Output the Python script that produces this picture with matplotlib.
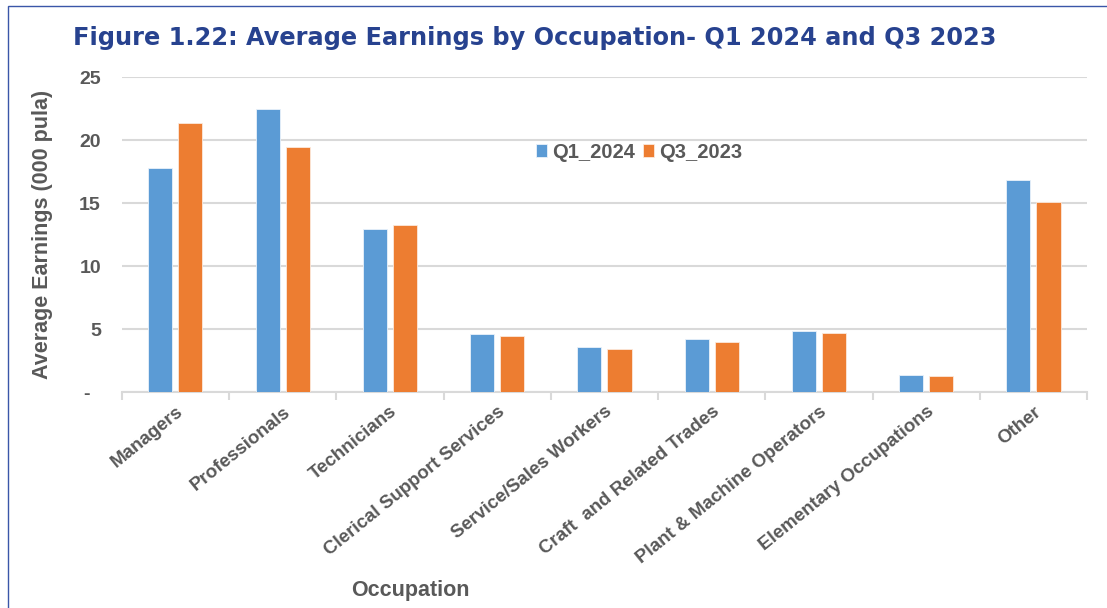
import matplotlib
matplotlib.use('Agg')
import matplotlib.pyplot as plt
import numpy as np
from matplotlib.patches import Rectangle

occupations = ['Managers', 'Professionals', 'Technicians', 'Clerical Support Services',
               'Service/Sales Workers', 'Craft  and Related Trades', 'Plant & Machine Operators',
               'Elementary Occupations', 'Other']
q1_2024 = [17.78, 22.46, 12.92, 4.65, 3.58, 4.25, 4.82, 1.33, 16.88]
q3_2023 = [21.35, 19.46, 13.24, 4.46, 3.45, 4.01, 4.68, 1.25, 15.06]
y_ticks = [0, 5, 10, 15, 20, 25]
y_tick_labels = ['-  ', '5', '10', '15', '20', '25']

BLUE = '#5B9BD5'
ORANGE = '#ED7D31'
GREY = '#595959'
GRID = '#D9D9D9'
TITLE_BLUE = '#27428F'

fig = plt.figure(figsize=(11.07, 6.08), dpi=100)
ax = fig.add_axes([0.110, 0.355, 0.872, 0.518])

x = np.arange(len(occupations))
w = 0.225
off = 0.14
ax.bar(x - off, q1_2024, w, color=BLUE, edgecolor='#EAF2FA', linewidth=0.6, label='Q1_2024', zorder=3)
ax.bar(x + off, q3_2023, w, color=ORANGE, edgecolor='#FCE9DC', linewidth=0.6, label='Q3_2023', zorder=3)

ax.set_xlim(-0.5, len(occupations) - 0.5)
ax.set_ylim(0, 25)
ax.set_yticks(y_ticks)
ax.set_yticklabels(y_tick_labels, fontsize=14, fontweight='bold', color=GREY, family='Liberation Sans')
ax.tick_params(axis='y', length=0, pad=15)
ax.yaxis.grid(True, color=GRID, linewidth=1.5, zorder=0)
ax.set_axisbelow(True)

ax.set_xticks(x)
ax.set_xticklabels(occupations, rotation=39, ha='right', rotation_mode='anchor',
                   fontsize=13.5, fontweight='bold', color=GREY, family='Liberation Sans')
ax.tick_params(axis='x', which='major', length=0, pad=8)
ax.set_xticks(np.arange(len(occupations) + 1) - 0.5, minor=True)
ax.tick_params(axis='x', which='minor', length=6, color=GRID, width=1.5)

for s in ['left', 'right', 'top']:
    ax.spines[s].set_visible(False)
ax.spines['bottom'].set_color(GRID)
ax.spines['bottom'].set_linewidth(1.5)

ax.set_ylabel('Average Earnings (000 pula)', fontsize=15.5, fontweight='bold', color=GREY,
              family='Liberation Sans', labelpad=19)

leg = ax.legend(loc='upper left', bbox_to_anchor=(0.41, 0.85), ncol=2, frameon=False,
                handlelength=0.55, handleheight=0.55, handletextpad=0.25, columnspacing=0.4,
                prop={'family': 'Liberation Sans', 'weight': 'bold', 'size': 14.5})
for t in leg.get_texts():
    t.set_color(GREY)

fig.text(0.066, 0.926, 'Figure 1.22: Average Earnings by Occupation- Q1 2024 and Q3 2023',
         fontsize=17.3, fontweight='bold', color=TITLE_BLUE, family='DejaVu Sans', va='baseline')
fig.text(0.371, 0.028, 'Occupation', fontsize=15.5, fontweight='bold', color=GREY,
         family='Liberation Sans', ha='center', va='center')

fig.patches.append(Rectangle((8 / 1107, -0.1), 1.2, 1.1 - 6 / 608, transform=fig.transFigure,
                             fill=False, edgecolor='#3A56A8', linewidth=1.0))

fig.savefig('out.png', dpi=100)
